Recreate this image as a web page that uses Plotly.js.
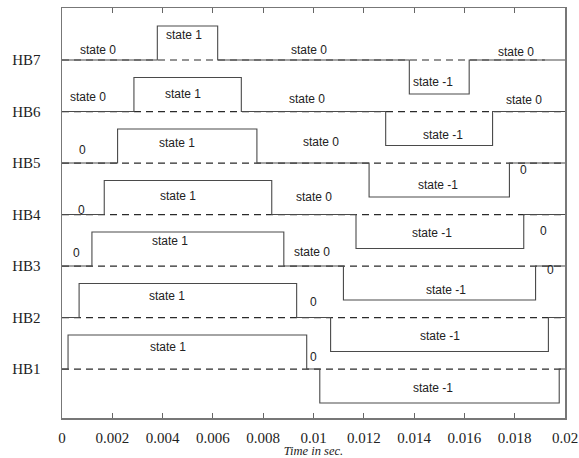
<!DOCTYPE html>
<html>
<head>
<meta charset="utf-8">
<script src="https://cdn.plot.ly/plotly-3.0.1.min.js"></script>
<style>html,body{margin:0;padding:0;background:#fff;}#chart{width:579px;height:458px;}</style>
</head>
<body>
<div id="chart"></div>
<script>
// Series names (bottom to top) and levels
const seriesNames = ['HB1', 'HB2', 'HB3', 'HB4', 'HB5', 'HB6', 'HB7'];
const levels = [1, 2, 3, 4, 5, 6, 7];
// Transition times (s): go to state 1, back to state 0, go to state -1, back to state 0
const riseTimes = [0.00024, 0.00068, 0.00119, 0.00168, 0.00221, 0.00286, 0.00379];
const fallTimes = [0.00973, 0.00933, 0.00882, 0.00834, 0.00775, 0.00713, 0.00619];
const downTimes = [0.01025, 0.01068, 0.01119, 0.01169, 0.01221, 0.01287, 0.01381];
const upTimes   = [0.01977, 0.01934, 0.01883, 0.01836, 0.01779, 0.01712, 0.01619];
const stateSequence = [0, 1, 0, -1, 0, 0];
const tEnd = 0.02;
const dashEnd = [0.02, 0.02, 0.02, 0.02, 0.02, 0.02, 0.0192];
const amplitude = 0.66;

// Text labels: [text, time, level]
const labelText = [
  'state 0','state 1','state 0','state -1','state 0',
  'state 0','state 1','state 0','state -1','state 0',
  '0','state 1','state 0','state -1','0',
  '0','state 1','state 0','state -1','0',
  '0','state 1','state 0','state -1','0',
  'state 1','0','state -1',
  'state 1','0','state -1'
];
const labelX = [
  0.00143, 0.00485, 0.00982, 0.01475, 0.01805,
  0.00103, 0.00481, 0.00974, 0.01515, 0.01837,
  0.00080, 0.00457, 0.01030, 0.01495, 0.01833,
  0.00076, 0.00461, 0.01002, 0.01471, 0.01913,
  0.00056, 0.00429, 0.00994, 0.01527, 0.01944,
  0.00417, 0.00998, 0.01503,
  0.00421, 0.00998, 0.01475
];
const labelY = [
  7.19, 7.49, 7.19, 6.57, 7.16,
  6.28, 6.34, 6.24, 5.54, 6.22,
  5.25, 5.39, 5.41, 4.57, 4.86,
  4.09, 4.36, 4.34, 3.64, 3.68,
  3.25, 3.49, 3.27, 2.53, 2.92,
  2.42, 2.30, 1.64,
  1.43, 1.23, 0.63
];

const xTicks = [0, 0.002, 0.004, 0.006, 0.008, 0.01, 0.012, 0.014, 0.016, 0.018, 0.02];
const xTickText = ['0', '0.002', '0.004', '0.006', '0.008', '0.01', '0.012', '0.014', '0.016', '0.018', '0.02'];

const traces = [];
for (let i = 0; i < seriesNames.length; i++) {
  const k = levels[i];
  traces.push({
    x: [0, dashEnd[i]], y: [k, k], mode: 'lines', type: 'scatter',
    line: {color: '#2a2a2a', width: 1.2, dash: '7px,5px'}, hoverinfo: 'skip', showlegend: false
  });
}
for (let i = 0; i < seriesNames.length; i++) {
  const k = levels[i];
  const xs = [0, riseTimes[i], fallTimes[i], downTimes[i], upTimes[i], tEnd];
  const ys = stateSequence.map(s => k + amplitude * s);
  traces.push({
    x: xs, y: ys, mode: 'lines', type: 'scatter', name: seriesNames[i],
    line: {color: '#4a4a4a', width: 1.1, shape: 'hv'}, showlegend: false
  });
}

const annotations = labelText.map((t, j) => ({
  x: labelX[j], y: labelY[j], xref: 'x', yref: 'y', text: t, showarrow: false,
  font: {family: 'Liberation Sans, Arial, sans-serif', size: 12, color: '#222'},
  xanchor: 'center', yanchor: 'middle'
}));

const layout = {
  width: 579, height: 458,
  margin: {l: 62, r: 14, t: 8, b: 40},
  paper_bgcolor: '#fff', plot_bgcolor: '#fff',
  showlegend: false,
  xaxis: {
    range: [0, 0.02], tickvals: xTicks, ticktext: xTickText,
    ticks: 'inside', ticklen: 5, tickcolor: '#666', tickwidth: 1,
    showline: true, linecolor: '#777', linewidth: 1.5, mirror: 'ticks',
    showgrid: false, zeroline: false,
    tickfont: {family: 'Liberation Serif, Times New Roman, serif', size: 15, color: '#222'},
    ticklabelstandoff: 5,
    title: {text: 'Time in sec.', standoff: 3,
      font: {family: 'Liberation Serif, Times New Roman, serif', size: 12.5, color: '#222', style: 'italic'}}
  },
  yaxis: {
    range: [0.05, 8.01], tickvals: levels, ticktext: seriesNames,
    ticks: '', showline: true, linecolor: '#777', linewidth: 1.5, mirror: true,
    showgrid: false, zeroline: false,
    tickfont: {family: 'Liberation Serif, Times New Roman, serif', size: 15, color: '#222'},
    ticklabelstandoff: 17
  },
  annotations: annotations
};

Plotly.newPlot('chart', traces, layout, {displayModeBar: false, staticPlot: true});
</script>
</body>
</html>
